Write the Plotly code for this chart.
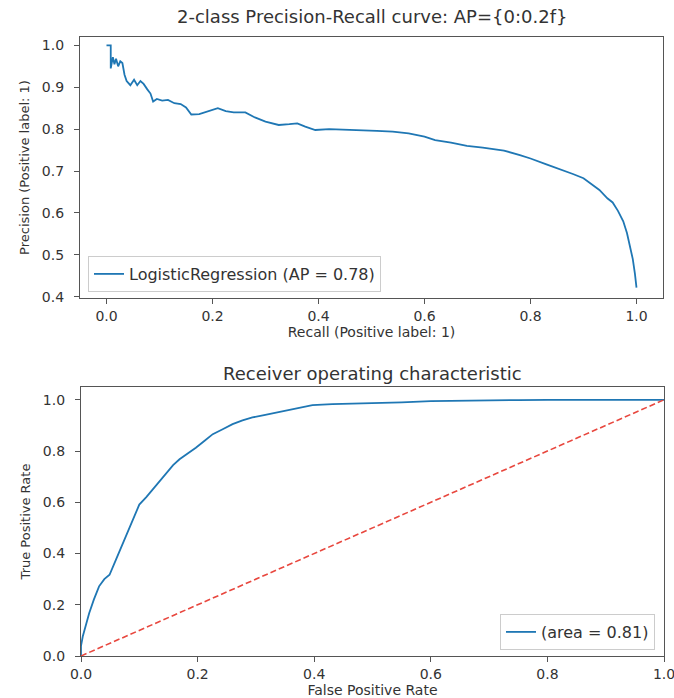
import plotly.graph_objects as go

# ---- Precision-Recall data ----
recall = [0.0, 0.008, 0.008, 0.012, 0.015, 0.018, 0.022, 0.026, 0.030, 0.034, 0.038, 0.045,
          0.052, 0.058, 0.064, 0.070, 0.077, 0.083, 0.088, 0.095, 0.105, 0.116, 0.128, 0.140,
          0.150, 0.160, 0.175, 0.195, 0.210, 0.225, 0.240, 0.262, 0.280, 0.300, 0.325, 0.345,
          0.360, 0.375, 0.394, 0.420, 0.450, 0.480, 0.510, 0.540, 0.570, 0.600, 0.620, 0.650,
          0.680, 0.710, 0.750, 0.780, 0.800, 0.830, 0.855, 0.880, 0.900, 0.915, 0.930, 0.945,
          0.955, 0.965, 0.975, 0.982, 0.988, 0.993, 0.997, 1.0]
precision = [1.0, 1.0, 0.945, 0.972, 0.955, 0.968, 0.950, 0.962, 0.958, 0.930, 0.915, 0.905,
             0.918, 0.905, 0.915, 0.908, 0.895, 0.885, 0.866, 0.872, 0.868, 0.870, 0.862, 0.860,
             0.852, 0.835, 0.836, 0.843, 0.850, 0.843, 0.840, 0.840, 0.828, 0.818, 0.810, 0.812,
             0.814, 0.806, 0.798, 0.800, 0.799, 0.797, 0.796, 0.794, 0.790, 0.782, 0.774, 0.768,
             0.760, 0.756, 0.749, 0.738, 0.730, 0.716, 0.705, 0.693, 0.683, 0.668, 0.655, 0.635,
             0.625, 0.605, 0.580, 0.552, 0.520, 0.490, 0.455, 0.422]
pr_label = "LogisticRegression (AP = 0.78)"

# ---- ROC data ----
fpr = [0, 0, 0.003, 0.008, 0.014, 0.022, 0.031, 0.040, 0.049, 0.060, 0.070, 0.077, 0.088,
       0.100, 0.112, 0.123, 0.135, 0.146, 0.158, 0.169, 0.183, 0.197, 0.212, 0.226, 0.243,
       0.260, 0.277, 0.294, 0.314, 0.334, 0.354, 0.374, 0.397, 0.431, 0.47, 0.5, 0.55, 0.6,
       0.65, 0.7, 0.75, 0.8, 0.9, 1.0]
tpr = [0, 0.04, 0.076, 0.12, 0.167, 0.22, 0.272, 0.30, 0.317, 0.376, 0.43, 0.467, 0.53,
       0.591, 0.62, 0.65, 0.685, 0.715, 0.745, 0.768, 0.79, 0.813, 0.84, 0.866, 0.885,
       0.905, 0.92, 0.931, 0.94, 0.95, 0.96, 0.97, 0.979, 0.983, 0.985, 0.987, 0.99, 0.995,
       0.997, 0.998, 0.999, 1.0, 1.0, 1.0]
roc_label = "(area = 0.81)"
diag = [0, 1]

pr_yticks = [0.4, 0.5, 0.6, 0.7, 0.8, 0.9, 1.0]
pr_xticks = [0.0, 0.2, 0.4, 0.6, 0.8, 1.0]
roc_ticks = [0.0, 0.2, 0.4, 0.6, 0.8, 1.0]

W, H = 674, 698
BLUE = "#1f77b4"
FONT = "DejaVu Sans"
TXT = "#333333"
FRAME = "#555555"

def px(x):
    return x / W

def py(y):
    return 1 - y / H

fig = go.Figure()
fig.add_trace(go.Scatter(x=recall, y=precision, mode="lines", name=pr_label,
                         line=dict(color=BLUE, width=1.8),
                         xaxis="x", yaxis="y", legend="legend"))
fig.add_trace(go.Scatter(x=fpr, y=tpr, mode="lines", name=roc_label,
                         line=dict(color=BLUE, width=1.8),
                         xaxis="x2", yaxis="y2", legend="legend2"))
fig.add_trace(go.Scatter(x=diag, y=diag, mode="lines", showlegend=False,
                         line=dict(color="#e8473e", width=1.6, dash="6px,3px"),
                         xaxis="x2", yaxis="y2"))

axis_common = dict(showline=True, mirror=True, linecolor=FRAME, linewidth=1.2,
                   ticks="outside", ticklen=5, tickcolor=FRAME, showgrid=False,
                   zeroline=False, automargin=False,
                   tickfont=dict(family=FONT, size=14, color=TXT),
                   tickformat=".1f")

fig.update_layout(
    template="none",
    width=W, height=H,
    margin=dict(l=0, r=0, t=0, b=0),
    paper_bgcolor="white", plot_bgcolor="white",
    font=dict(family=FONT, color=TXT),
    xaxis=dict(domain=[px(80), px(663)], range=[-0.05, 1.05], tickvals=pr_xticks,
               anchor="y", ticklabeloverflow="allow",
               title=dict(text="Recall (Positive label: 1)", font=dict(size=14), standoff=3),
               **axis_common),
    yaxis=dict(domain=[py(298), py(37)], range=[0.397, 1.02], tickvals=pr_yticks,
               anchor="x", ticklabelstandoff=7,
               title=dict(text="Precision (Positive label: 1)", font=dict(size=13), standoff=9),
               **axis_common),
    xaxis2=dict(domain=[px(81), px(664)], range=[0, 1], tickvals=roc_ticks, anchor="y2",
                ticklabeloverflow="allow",
                title=dict(text="False Positive Rate", font=dict(size=14), standoff=3),
                **axis_common),
    yaxis2=dict(domain=[py(656), py(387)], range=[0, 1.05], tickvals=roc_ticks, anchor="x2",
                ticklabelstandoff=7,
                title=dict(text="True Positive Rate", font=dict(size=13), standoff=9),
                **axis_common),
    legend=dict(x=px(88), y=py(292), xanchor="left", yanchor="bottom",
                bgcolor="rgba(255,255,255,0.8)", bordercolor="#cccccc", borderwidth=1,
                font=dict(family=FONT, size=16, color=TXT)),
    legend2=dict(x=px(655), y=py(650), xanchor="right", yanchor="bottom",
                 bgcolor="rgba(255,255,255,0.8)", bordercolor="#cccccc", borderwidth=1,
                 font=dict(family=FONT, size=16, color=TXT)),
    annotations=[
        dict(text="2-class Precision-Recall curve: AP={0:0.2f}", x=px(372), y=py(17),
             xref="paper", yref="paper", showarrow=False, xanchor="center", yanchor="middle",
             font=dict(family=FONT, size=18, color=TXT)),
        dict(text="Receiver operating characteristic", x=px(373), y=py(373),
             xref="paper", yref="paper", showarrow=False, xanchor="center", yanchor="middle",
             font=dict(family=FONT, size=18, color=TXT)),
    ],
)

fig.write_html("out.html")
